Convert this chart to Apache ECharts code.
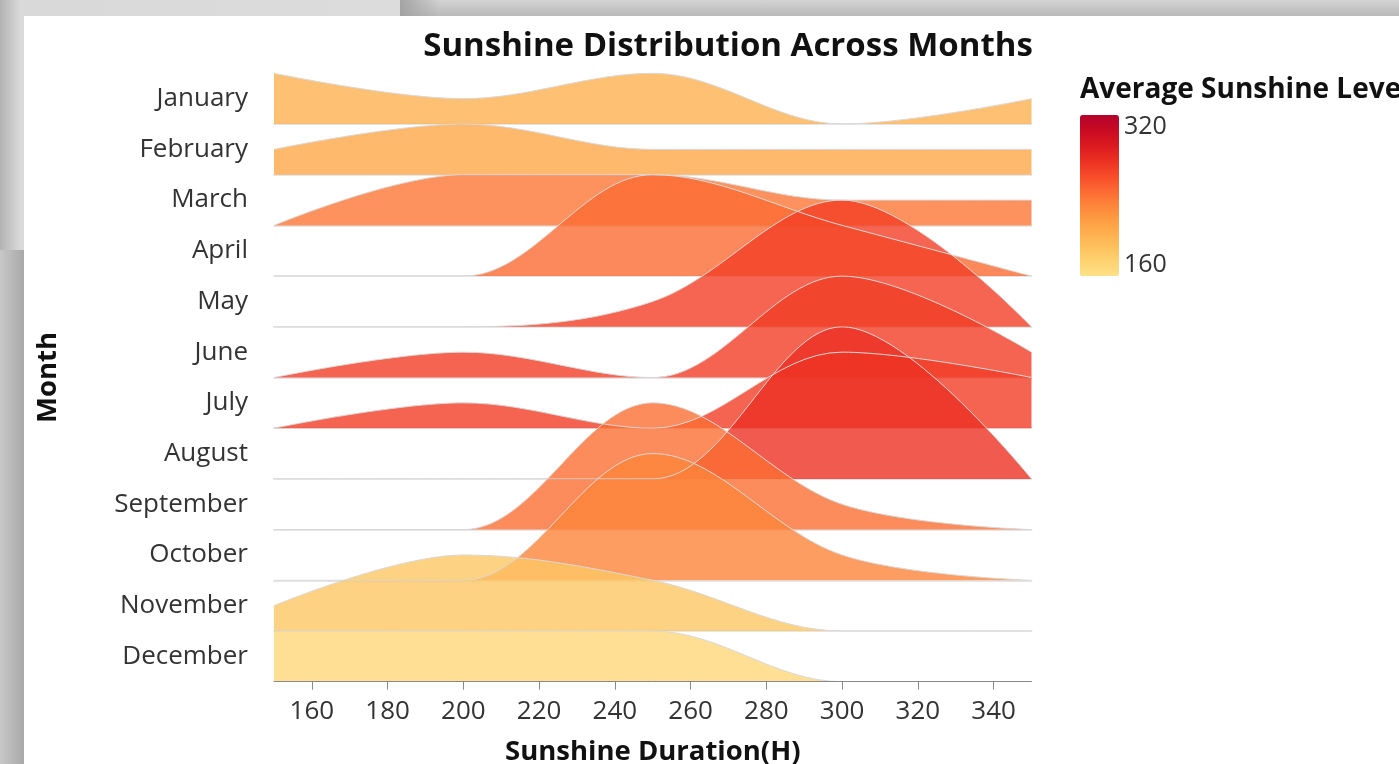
<!DOCTYPE html>
<html>
<head>
<meta charset="utf-8">
<script src="https://cdn.jsdelivr.net/npm/echarts@6/dist/echarts.min.js"></script>
<style>
  html, body { margin: 0; padding: 0; width: 1399px; height: 764px; overflow: hidden; background: #bdbdbd; }
  .bg { position: absolute; }
  #bgTop { left: 0; top: 0; width: 1399px; height: 16px; background: linear-gradient(to bottom, #d3d3d3, #bababa); }
  #bgTopShadow { left: 400px; top: 0; width: 40px; height: 16px; background: linear-gradient(to right, #a3a3a3, rgba(190,190,190,0)); }
  #bgPanel { left: 0; top: 0; width: 400px; height: 250px; background: linear-gradient(to right, #b3b3b3 0px, #d9d9d9 20px, #dcdcdc 100%); }
  #bgLeft { left: 0; top: 250px; width: 24px; height: 514px; background: linear-gradient(to right, #c8c8c8, #a8a8a8); }
  #card { left: 24px; top: 16px; width: 1375px; height: 748px; background: #ffffff; }
  #chart { position: absolute; left: 0; top: 0; width: 1399px; height: 764px; }
</style>
</head>
<body>
<div class="bg" id="bgTop"></div>
<div class="bg" id="bgTopShadow"></div>
<div class="bg" id="bgPanel"></div>
<div class="bg" id="bgLeft"></div>
<div class="bg" id="card"></div>
<div id="chart"></div>
<script>
// ---------------- data ----------------
const months = ['January', 'February', 'March', 'April', 'May', 'June',
                'July', 'August', 'September', 'October', 'November', 'December'];
const sunshineBins = [150, 200, 250, 300, 350];
// number of years falling in each sunshine bin, per month
const january   = [2, 1, 2, 0, 1];
const february  = [1, 2, 1, 1, 1];
const march     = [0, 2, 2, 1, 1];
const april     = [0, 0, 4, 2, 0];
const may       = [0, 0, 1, 5, 0];
const june      = [0, 1, 0, 4, 1];
const july      = [0, 1, 0, 3, 2];
const august    = [0, 0, 0, 6, 0];
const september = [0, 0, 5, 1, 0];
const october   = [0, 0, 5, 1, 0];
const november  = [1, 3, 2, 0, 0];
const december  = [2, 2, 2, 0, 0];
const monthCounts = [january, february, march, april, may, june,
                     july, august, september, october, november, december];
// average sunshine level per month (drives the colour)
const avgSunshine = [202, 209, 238, 244, 266, 267, 267, 274, 242, 230, 184, 170];
const xTickValues = [160, 180, 200, 220, 240, 260, 280, 300, 320, 340];
const legendTicks = [160, 320];

// ---------------- styling / layout ----------------
const FONT = "'Open Sans', sans-serif";
const colorStops = ['#fee087', '#fed16f', '#febd59', '#fea849', '#fd903e', '#fc7335',
                    '#f9522b', '#ee3423', '#de1b20', '#ca0b22', '#b5022a'];
const PLOT_LEFT = 274, PLOT_W = 757.5, PLOT_TOP = 73.3, BAND = 50.7;
const UNIT = BAND / 2;       // pixel height of one count
const Y_MAX = 6;             // counts shown in each row's scale
const X_MIN = 150, X_MAX = 350;

const grids = [], xAxes = [], yAxes = [], series = [];
months.forEach((m, i) => {
  const base = PLOT_TOP + BAND * (i + 1);
  const isLast = i === months.length - 1;
  grids.push({ left: PLOT_LEFT, width: PLOT_W, top: base - Y_MAX * UNIT, height: Y_MAX * UNIT,
               containLabel: false, outerBoundsMode: 'none' });
  xAxes.push({
    gridIndex: i, type: 'value', min: X_MIN, max: X_MAX, z: isLast ? 5 : 0,
    axisLine: { show: true, lineStyle: { color: isLast ? '#8a8a8a' : '#e6e6e6', width: isLast ? 1 : 2 } },
    axisTick: { show: isLast, customValues: xTickValues, length: 8, lineStyle: { color: '#8a8a8a' } },
    axisLabel: { show: isLast, customValues: xTickValues, margin: 17, fontSize: 26, color: '#333', fontFamily: FONT },
    splitLine: { show: false },
    name: isLast ? 'Sunshine Duration(H)' : '', nameLocation: 'middle', nameGap: 56,
    nameTextStyle: { fontFamily: FONT, fontWeight: 'bold', fontSize: 27.5, color: '#111' }
  });
  yAxes.push({ gridIndex: i, type: 'value', min: 0, max: Y_MAX, show: false });
  const t = (avgSunshine[i] - legendTicks[0]) / (legendTicks[1] - legendTicks[0]);
  series.push({
    type: 'line', xAxisIndex: i, yAxisIndex: i, name: m,
    data: sunshineBins.map((b, j) => [b, monthCounts[i][j]]),
    smooth: 0.35, symbol: 'none', silent: true,
    lineStyle: { color: '#d8d8d8', width: 1 },
    areaStyle: { color: echarts.color.lerp(t, colorStops), opacity: 0.8 }
  });
});
// month label axis spanning all rows
const LI = months.length;
grids.push({ left: PLOT_LEFT, width: PLOT_W, top: PLOT_TOP, height: BAND * months.length,
             containLabel: false, outerBoundsMode: 'none' });
xAxes.push({ gridIndex: LI, type: 'value', min: 0, max: 1, show: false });
yAxes.push({
  gridIndex: LI, type: 'category', data: months, inverse: true,
  axisLine: { show: false }, axisTick: { show: false }, splitLine: { show: false },
  axisLabel: { margin: 26, fontSize: 26, color: '#333', fontFamily: FONT },
  name: 'Month', nameLocation: 'middle', nameGap: 212, nameRotate: 90,
  nameTextStyle: { fontFamily: FONT, fontWeight: 'bold', fontSize: 27.5, color: '#111' }
});

const chart = echarts.init(document.getElementById('chart'), null, { renderer: 'canvas' });
chart.setOption({
  animation: false,
  backgroundColor: 'transparent',
  title: [
    { text: 'Sunshine Distribution Across Months', left: 728, top: 30, textAlign: 'center', padding: 0,
      textStyle: { fontFamily: FONT, fontWeight: 'bold', fontSize: 33, color: '#111' } },
    { text: 'Average Sunshine Level', left: 1080, top: 76, padding: 0,
      textStyle: { fontFamily: FONT, fontWeight: 'bold', fontSize: 28, color: '#111' } }
  ],
  visualMap: {
    type: 'continuous', min: legendTicks[0], max: legendTicks[1], orient: 'vertical',
    left: 1080, top: 115, itemWidth: 39, itemHeight: 161, padding: 0,
    calculable: false, hoverLink: false, seriesIndex: [],
    inRange: { color: colorStops }
  },
  graphic: [
    { type: 'text', x: 1124, y: 114, silent: true,
      style: { text: String(legendTicks[1]), fontFamily: FONT, fontSize: 25, fill: '#333', textAlign: 'left', textVerticalAlign: 'top' } },
    { type: 'text', x: 1124, y: 277, silent: true,
      style: { text: String(legendTicks[0]), fontFamily: FONT, fontSize: 25, fill: '#333', textAlign: 'left', textVerticalAlign: 'bottom' } }
  ],
  grid: grids,
  xAxis: xAxes,
  yAxis: yAxes,
  series: series
});
</script>
</body>
</html>
